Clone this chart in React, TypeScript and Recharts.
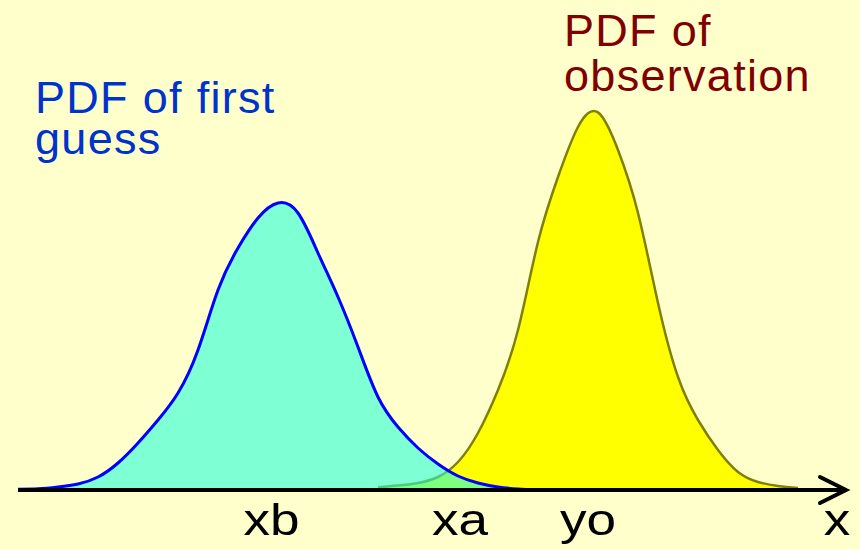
import { ComposedChart, Area, XAxis, YAxis } from "recharts";

// sample positions along the x axis
const xValues = [
  0, 2, 4, 6, 8, 10, 12, 14, 16, 18, 20, 22, 24, 26, 28, 30, 32, 34, 36, 38,
  40, 42, 44, 46, 48, 50, 52, 54, 56, 58, 60, 62, 64, 66, 68, 70, 72, 74, 76,
  78,
];

// PDF of first guess (background), centred on xb
const firstGuess = [
  0.2, 0.3, 0.75, 1.5, 3.25, 6.75, 11.75, 17.5, 24.25, 35, 50, 60.5, 68, 71.75,
  69.25, 59.25, 48.25, 35.75, 23.25, 15.75, 10.5, 6.5, 3.5, 1.75, 0.75, 0.25, 0,
  null, null, null, null, null, null, null, null, null, null, null, null, null,
];

// PDF of observation, centred on yo
const observation = [
  null, null, null, null, null, null, null, null, null, null, null, null, null,
  null, null, null, null, null, 0.7, 1.1, 1.75, 3.25, 7, 14.25, 25, 40, 62,
  78.25, 90.75, 94.4, 85, 69.25, 46.75, 28.25, 17.5, 10, 4.5, 2, 1, 0.5,
];

const tickValues = [25.35, 44.2, 57, 81.9];
const tickLabels = ["xb", "xa", "yo", "x"];

const data = xValues.map((x, i) => ({
  x,
  guess: firstGuess[i],
  obs: observation[i],
}));

const FONT = "'Liberation Sans', Arial, sans-serif";

function AxisTick(props: any) {
  const { x, payload } = props;
  const i = tickValues.indexOf(payload.value);
  return (
    <text
      transform={`translate(${x},535) scale(1.18,1)`}
      textAnchor="middle"
      fontFamily={FONT}
      fontSize={45}
      fill="#000"
    >
      {tickLabels[i]}
    </text>
  );
}

export default function App() {
  return (
    <div
      style={{
        position: "absolute",
        top: 0,
        left: 0,
        width: 860,
        height: 549,
        background: "#ffffcc",
      }}
    >
      <ComposedChart
        width={860}
        height={549}
        data={data}
        margin={{ top: 90, right: 22, bottom: 0, left: 18 }}
      >
        <YAxis type="number" domain={[0, 100]} hide />
        <Area
          dataKey="obs"
          type="natural"
          fill="#ffff00"
          fillOpacity={1}
          stroke="#808000"
          strokeWidth={2.5}
          dot={false}
          activeDot={false}
          isAnimationActive={false}
        />
        <Area
          dataKey="guess"
          type="natural"
          fill="#26ffda"
          fillOpacity={0.59}
          stroke="#0000ff"
          strokeWidth={3}
          dot={false}
          activeDot={false}
          isAnimationActive={false}
        />
        <XAxis
          dataKey="x"
          type="number"
          domain={[0, 82]}
          ticks={tickValues}
          height={59}
          tickLine={false}
          axisLine={{ stroke: "#000", strokeWidth: 4 }}
          tick={<AxisTick />}
          interval={0}
        />
        {/* arrow head at the end of the x axis */}
        <path
          d="M836 490 L846 490 M820 477 L846 490 L820 503"
          fill="none"
          stroke="#000"
          strokeWidth={4}
          strokeLinejoin="miter"
          strokeLinecap="round"
        />
        <text fontFamily={FONT} fontSize={45} fill="#0033cc" letterSpacing={1.3}>
          <tspan x={35} y={113}>PDF of first</tspan>
          <tspan x={35} y={154}>guess</tspan>
        </text>
        <text fontFamily={FONT} fontSize={45} fill="#800000" letterSpacing={1.3}>
          <tspan x={564} y={46}>PDF of</tspan>
          <tspan x={564} y={91}>observation</tspan>
        </text>
      </ComposedChart>
    </div>
  );
}
